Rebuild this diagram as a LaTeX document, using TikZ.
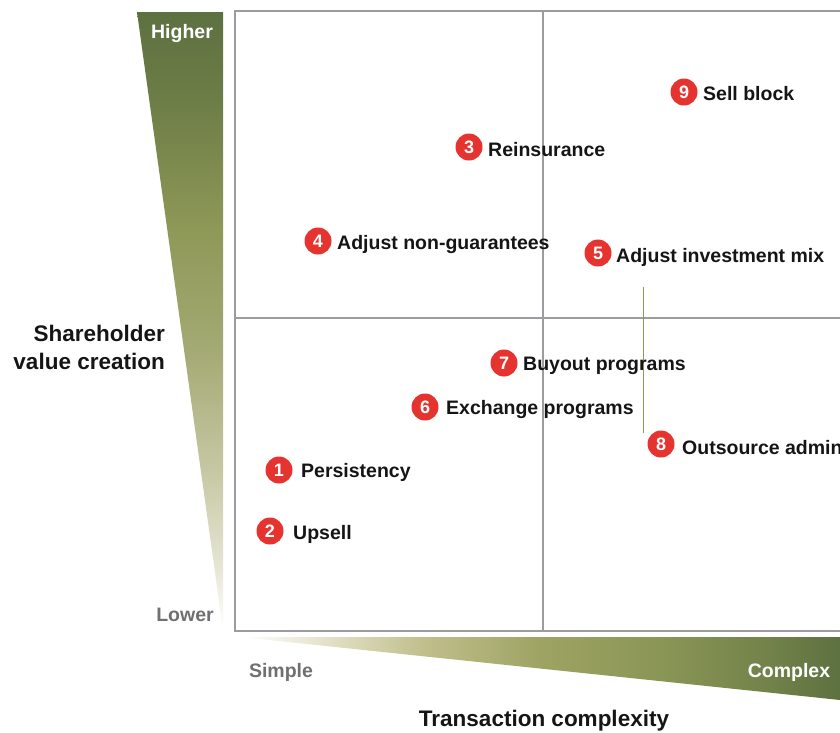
\documentclass[tikz,border=0pt]{standalone}
\usepackage{fontspec}
\setmainfont{Liberation Sans}
\definecolor{oliveDark}{HTML}{5D7040}
\definecolor{oliveMid}{HTML}{8E9857}
\definecolor{frameGray}{HTML}{9B9BA0}
\definecolor{dotRed}{HTML}{E5332F}
\definecolor{axisGray}{HTML}{707073}
\definecolor{labelInk}{HTML}{151515}
\definecolor{vA}{HTML}{6E7E47}
\definecolor{vB}{HTML}{8E9857}
\definecolor{vC}{HTML}{A4AA74}
\definecolor{vD}{HTML}{C8C9A5}
\definecolor{vE}{HTML}{E6E6D6}
\definecolor{hA}{HTML}{E8E6D2}
\definecolor{hB}{HTML}{C2C08E}
\definecolor{hC}{HTML}{9EA363}
\definecolor{hD}{HTML}{8A9656}
\definecolor{hE}{HTML}{728249}
% value wedge: dark olive at the top fading to white at the tip
\pgfdeclareverticalshading{valueShade}{100bp}{%
  color(0bp)=(white); color(25bp)=(white); color(30bp)=(vE);
  color(37.5bp)=(vD); color(47.5bp)=(vC); color(57.5bp)=(vB);
  color(67.5bp)=(vA); color(75bp)=(oliveDark); color(100bp)=(oliveDark)}
% complexity wedge: white at the tip to dark olive at the right
\pgfdeclarehorizontalshading{complexShade}{100bp}{%
  color(0bp)=(white); color(25bp)=(white); color(31bp)=(hA);
  color(40bp)=(hB); color(50bp)=(hC); color(60bp)=(hD);
  color(69bp)=(hE); color(75bp)=(oliveDark); color(100bp)=(oliveDark)}
\tikzset{
  frameline/.style={draw=frameGray, line width=2pt},
  dot/.style={circle, fill=dotRed, minimum size=27pt, inner sep=0pt,
    text=white, font=\fontsize{18}{18}\selectfont\bfseries},
  item/.style={anchor=west, inner sep=0pt, text=labelInk,
    font=\fontsize{19.5}{19.5}\selectfont\bfseries},
  endword/.style={inner sep=0pt, font=\fontsize{19.5}{19.5}\selectfont\bfseries},
  axistitle/.style={inner sep=0pt, text=labelInk,
    font=\fontsize{22.5}{28}\selectfont\bfseries}
}
\begin{document}
\begin{tikzpicture}[x=1pt,y=-1pt]
\useasboundingbox (0,0) rectangle (840,732);
\clip (0,0) rectangle (840,732);

% value wedge (vertical) and complexity wedge (horizontal)
\shade[shading=valueShade]
  (137,12) -- (223,12) -- (223,630) -- cycle;
\shade[shading=complexShade]
  (240,637) -- (840,637) -- (840,700) -- cycle;

% quadrant frame
\draw[frameline] (235,11) rectangle (880,631);
\draw[frameline] (543,11) -- (543,631);
\draw[frameline] (235,318) -- (880,318);

% thin guide line
\coordinate (gTop) at (643,287);
\coordinate (gBot) at (643,433);
\draw[draw=oliveMid, line width=0.8pt] (gTop) -- (gBot);

% wedge end labels
\node[endword, text=white] (hi) at (182,33) {Higher};
\node[endword, text=axisGray] (lo) at (185,615) {Lower};
\node[endword, text=axisGray] (si) at (281,672) {Simple};
\node[endword, text=white] (cx) at (789,672) {Complex};

% axis titles
\node[axistitle, anchor=east, align=right] (yt) at (165,347)
  {Shareholder\\value creation};
\node[axistitle] (xt) at (544,721) {Transaction complexity};

% numbered initiatives
\node[dot] (d1) at (279,470) {1};
\node[item] (t1) at (301,472) {Persistency};
\node[dot] (d2) at (270,531) {2};
\node[item] (t2) at (293,534) {Upsell};
\node[dot] (d3) at (469,147) {3};
\node[item] (t3) at (488,150) {Reinsurance};
\node[dot] (d4) at (318,241) {4};
\node[item] (t4) at (337,244) {Adjust non-guarantees};
\node[dot] (d5) at (598,253) {5};
\node[item] (t5) at (616,257) {Adjust investment mix};
\node[dot] (d6) at (425,407) {6};
\node[item] (t6) at (446,409) {Exchange programs};
\node[dot] (d7) at (504,363) {7};
\node[item] (t7) at (523,366) {Buyout programs};
\node[dot] (d8) at (661,444) {8};
\node[item] (t8) at (682,448) {Outsource admin};
\node[dot] (d9) at (684,92) {9};
\node[item] (t9) at (703,94) {Sell block};
\end{tikzpicture}
\end{document}
